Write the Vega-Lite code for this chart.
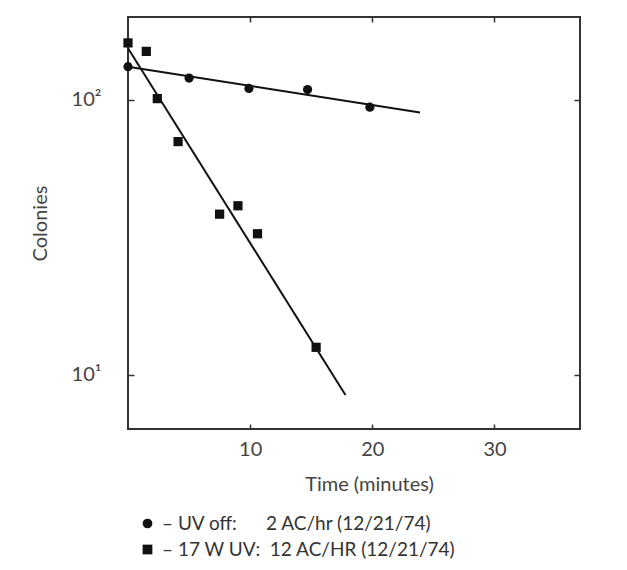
{
  "$schema": "https://vega.github.io/schema/vega-lite/v6.json",
  "width": 452,
  "height": 412,
  "autosize": "none",
  "padding": {"left": 128, "top": 17, "right": 47, "bottom": 141},
  "background": "white",
  "datasets": {
    "points": [
      {"series": "UV off", "time": 0, "colonies": 132},
      {"series": "UV off", "time": 5.0, "colonies": 120},
      {"series": "UV off", "time": 9.9, "colonies": 110},
      {"series": "UV off", "time": 14.7, "colonies": 109},
      {"series": "UV off", "time": 19.8, "colonies": 94},
      {"series": "17 W UV", "time": 0, "colonies": 161},
      {"series": "17 W UV", "time": 1.5, "colonies": 150},
      {"series": "17 W UV", "time": 2.4, "colonies": 101},
      {"series": "17 W UV", "time": 4.1, "colonies": 70.5},
      {"series": "17 W UV", "time": 7.5, "colonies": 38.4},
      {"series": "17 W UV", "time": 9.0, "colonies": 41.2},
      {"series": "17 W UV", "time": 10.6, "colonies": 32.6},
      {"series": "17 W UV", "time": 15.4, "colonies": 12.6}
    ],
    "fits": [
      {"series": "UV off", "time": 0, "colonies": 132},
      {"series": "UV off", "time": 23.9, "colonies": 90},
      {"series": "17 W UV", "time": 0, "colonies": 154},
      {"series": "17 W UV", "time": 17.8, "colonies": 8.46}
    ]
  },
  "resolve": {"axis": {"x": "independent", "y": "independent"}},
  "layer": [
    {
      "data": {"name": "fits"},
      "mark": {"type": "line", "color": "#111", "strokeWidth": 2},
      "encoding": {
        "x": {
          "field": "time", "type": "quantitative",
          "scale": {"domain": [0, 37], "nice": false, "zero": false},
          "axis": {"orient": "bottom", "values": [10, 20, 30], "tickSize": -5, "labelPadding": 15, "title": "Time (minutes)", "titlePadding": 15, "titleX": 241}
        },
        "y": {
          "field": "colonies", "type": "quantitative",
          "scale": {"type": "log", "domain": [6.36, 200], "nice": false},
          "axis": {"orient": "left", "values": [10, 100], "tickSize": -6, "labelPadding": 33, "title": "Colonies", "titlePadding": 21,
            "labelExpr": "datum.value == 100 ? '10²' : (datum.value == 10 ? '10¹' : '')"}
        },
        "detail": {"field": "series", "type": "nominal"}
      }
    },
    {
      "data": {"name": "points"},
      "mark": {"type": "point", "filled": true, "size": 85, "color": "#111", "opacity": 1},
      "encoding": {
        "x": {
          "field": "time", "type": "quantitative",
          "scale": {"domain": [0, 37], "nice": false, "zero": false},
          "axis": {"orient": "top", "values": [10, 20, 30], "tickSize": -5, "labels": false, "title": null}
        },
        "y": {
          "field": "colonies", "type": "quantitative",
          "scale": {"type": "log", "domain": [6.36, 200], "nice": false},
          "axis": {"orient": "right", "values": [10, 100], "tickSize": -6, "labels": false, "title": null}
        },
        "shape": {
          "field": "series", "type": "nominal",
          "scale": {"domain": ["UV off", "17 W UV"], "range": ["circle", "square"]},
          "legend": {
            "orient": "none", "legendX": 10, "legendY": 497, "title": null,
            "labelFont": "Lato", "labelFontSize": 19, "labelColor": "#333", "labelLimit": 0,
            "symbolSize": 95, "symbolFillColor": "#111", "symbolStrokeColor": "#111", "symbolStrokeWidth": 0,
            "rowPadding": 6, "labelOffset": 5,
            "labelExpr": "datum.label == 'UV off' ? '– UV off:\u00a0\u00a0\u00a0\u00a0\u00a0\u00a02 AC/hr (12/21/74)' : '– 17 W UV:\u00a0\u00a012 AC/HR (12/21/74)'"
          }
        }
      }
    }
  ],
  "config": {
    "font": "Lato",
    "view": {"stroke": "#333", "strokeWidth": 2},
    "axis": {
      "domain": false, "grid": false, "tickColor": "#333", "tickWidth": 1.5,
      "labelFont": "Lato", "labelFontSize": 20, "labelColor": "#444",
      "titleFont": "Lato", "titleFontSize": 20, "titleFontWeight": "normal", "titleColor": "#444"
    }
  }
}
